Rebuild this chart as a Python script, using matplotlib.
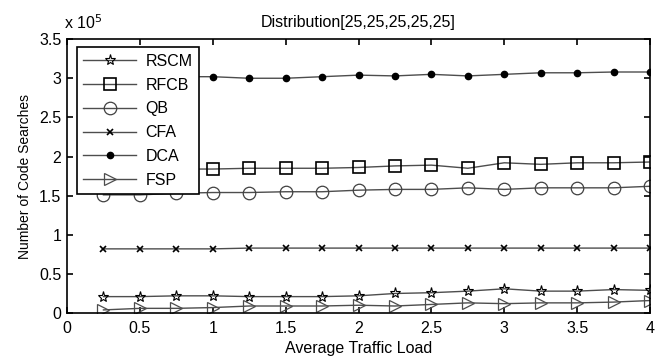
import matplotlib
matplotlib.use('Agg')
import matplotlib.pyplot as plt
import numpy as np
from matplotlib.ticker import FuncFormatter, MultipleLocator

plt.rcParams['font.family'] = ['Liberation Sans', 'DejaVu Sans']

# 数据 (单位: 次数)
load = np.array([0.25, 0.5, 0.75, 1.0, 1.25, 1.5, 1.75, 2.0,
                 2.25, 2.5, 2.75, 3.0, 3.25, 3.5, 3.75, 4.0])
rscm = np.array([0.21, 0.21, 0.22, 0.22, 0.21, 0.21, 0.21, 0.22,
                 0.25, 0.26, 0.28, 0.31, 0.28, 0.28, 0.30, 0.29]) * 1e5
rfcb = np.array([1.84, 1.84, 1.84, 1.84, 1.85, 1.85, 1.85, 1.86,
                 1.88, 1.89, 1.85, 1.92, 1.90, 1.92, 1.92, 1.93]) * 1e5
qb = np.array([1.51, 1.51, 1.53, 1.54, 1.54, 1.55, 1.55, 1.57,
               1.58, 1.58, 1.60, 1.58, 1.60, 1.60, 1.60, 1.62]) * 1e5
cfa = np.array([0.82, 0.82, 0.82, 0.82, 0.83, 0.83, 0.83, 0.83,
                0.83, 0.83, 0.83, 0.83, 0.83, 0.83, 0.83, 0.83]) * 1e5
dca = np.array([3.04, 3.03, 3.02, 3.02, 3.00, 3.00, 3.02, 3.04,
                3.03, 3.05, 3.03, 3.05, 3.07, 3.07, 3.08, 3.08]) * 1e5
fsp = np.array([0.04, 0.06, 0.06, 0.07, 0.09, 0.09, 0.09, 0.10,
                0.09, 0.11, 0.13, 0.12, 0.13, 0.13, 0.14, 0.16]) * 1e5

fig = plt.figure(figsize=(6.6, 3.59), dpi=100)
ax = fig.add_axes([0.1015, 0.128, 0.8835, 0.763])

lc = '0.3'
ax.plot(load, rscm, color=lc, lw=1, marker='*', ms=8, mfc='none', mec='k', mew=0.8, label='RSCM')
ax.plot(load, rfcb, color=lc, lw=1, marker='s', ms=9, mfc='none', mec='k', mew=1.2, label='RFCB')
ax.plot(load, qb, color=lc, lw=1, marker='o', ms=9, mfc='none', mec='0.25', mew=0.9, label='QB')
ax.plot(load, cfa, color=lc, lw=1, marker='x', ms=4, mec='k', mew=1.2, label='CFA')
ax.plot(load, dca, color=lc, lw=1, marker='.', ms=9, mfc='k', mec='k', label='DCA')
ax.plot(load, fsp, color=lc, lw=1, marker='>', ms=9, mfc='none', mec='0.3', mew=0.9, label='FSP')

ax.set_xlim(0, 4)
ax.set_ylim(0, 3.5e5)
ax.xaxis.set_major_locator(MultipleLocator(0.5))
ax.yaxis.set_major_locator(MultipleLocator(0.5e5))
ax.xaxis.set_major_formatter(FuncFormatter(lambda v, p: '%g' % v))
ax.yaxis.set_major_formatter(FuncFormatter(lambda v, p: '%g' % (v / 1e5)))
ax.tick_params(direction='in', top=True, right=True, labelsize=11.5, length=4, width=1.2, pad=4)
ax.tick_params(axis='x', pad=6)
for s in ax.spines.values():
    s.set_linewidth(1.2)

ax.text(-0.005, 1.025, r'x 10$^5$', transform=ax.transAxes, fontsize=11.5, ha='left', va='bottom')
ax.set_title('Distribution[25,25,25,25,25]', fontsize=11.5, pad=9)
ax.set_xlabel('Average Traffic Load', fontsize=11.5, labelpad=3)
ax.set_ylabel('Number of Code Searches', fontsize=10, labelpad=5)

leg = ax.legend(loc='upper left', fontsize=11.5, fancybox=False, edgecolor='k',
                framealpha=1, handlelength=3.3, handletextpad=0.6, labelspacing=0.55,
                borderaxespad=0.0, borderpad=0.4, bbox_to_anchor=(0.017, 0.97))
leg.get_frame().set_linewidth(1.2)

fig.savefig('out.png', dpi=100)
